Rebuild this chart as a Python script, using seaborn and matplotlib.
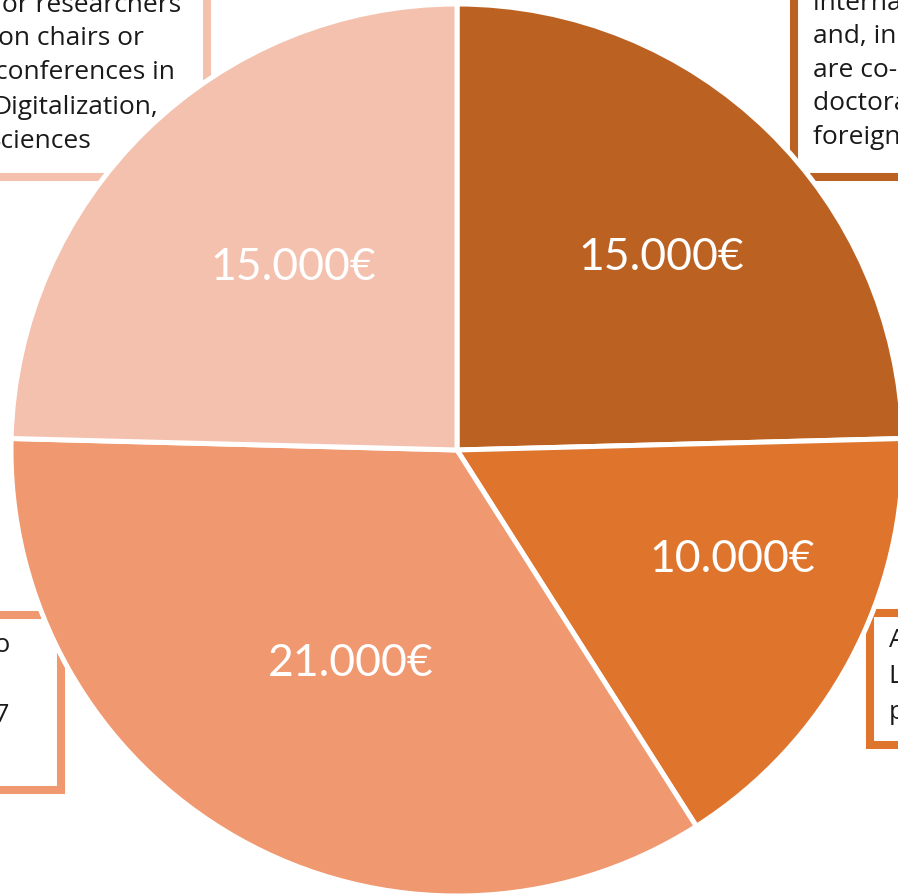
import numpy as np
import matplotlib
matplotlib.use('Agg')
import matplotlib.pyplot as plt
from matplotlib.patches import Rectangle
import seaborn as sns

# Budget split (clockwise from the top)
amounts = [15000, 10000, 21000, 15000]
amount_labels = ["15.000€", "10.000€", "21.000€", "15.000€"]
slice_colors = ["#BB6223", "#DF742D", "#F09870", "#F4C1AF"]
label_radius = [0.63, 0.665, 0.535, 0.55]   # fraction of radius for value labels
label_turn = [-2.4, 6.3, 3.0, -2.3]          # degrees off the slice middle

# Partially visible description boxes (cropped by the image edge)
box_top_left = ["for researchers", "on chairs or", "conferences in", "Digitalization,", "Sciences"]
box_top_right = ["international", "and, in particular,", "are co-authored by", "doctoral students", "foreign researchers"]
box_bottom_left = ["go to", "", "2017", ""]
box_bottom_right = ["Awards for", "LabEx members", "publications"]

W, H = 898, 896

sns.set_theme(style="white")
plt.rcParams['font.family'] = ['Open Sans', 'DejaVu Sans']

fig = plt.figure(figsize=(W / 100, H / 100), dpi=100)
ax = fig.add_axes([0, 0, 1, 1])

def py(y):
    # pixel row -> data y (y axis points up)
    return H - y

cx, cy, r = 457, py(450), 446

wedges, _ = ax.pie(amounts, colors=slice_colors, startangle=90, counterclock=False,
                   center=(cx, cy), radius=r,
                   wedgeprops=dict(edgecolor="white", linewidth=3.6))
for w in wedges:
    w.set_zorder(3)

for w, lab, f, d in zip(wedges, amount_labels, label_radius, label_turn):
    ang = np.deg2rad((w.theta1 + w.theta2) / 2 + d)
    ax.text(cx + f * r * np.cos(ang), cy + f * r * np.sin(ang), lab,
            color="white", fontsize=32, fontweight="normal", family=['Lato', 'DejaVu Sans'],
            ha="center", va="center", zorder=5)

box_lw = 5.8
txt_kw = dict(fontsize=19, color="#1a1a1a", va="center", zorder=2)

# top-left box
ax.add_patch(Rectangle((-30, py(177)), 236.5, 240, facecolor="white",
                       edgecolor=slice_colors[3], linewidth=box_lw, zorder=1))
tl_x = [-7, -2, -5, -8, -13]
tl_y = [5, 38, 72, 107, 141]
for s, x, y in zip(box_top_left, tl_x, tl_y):
    ax.text(x, py(y), s, ha="left", **txt_kw)

# top-right box
ax.add_patch(Rectangle((794, py(177)), 300, 240, facecolor="white",
                       edgecolor=slice_colors[0], linewidth=box_lw, zorder=1))
tr_y = [3, 36, 70, 103, 137]
for s, y in zip(box_top_right, tr_y):
    ax.text(813, py(y), s, ha="left", **txt_kw)

# bottom-left box
ax.add_patch(Rectangle((-40, py(790)), 101, 175, facecolor="white",
                       edgecolor=slice_colors[2], linewidth=box_lw, zorder=1))
bl_y = [645, 680, 715, 750]
for s, y in zip(box_bottom_left, bl_y):
    ax.text(10, py(y), s, ha="right", **txt_kw)

# bottom-right box
ax.add_patch(Rectangle((870, py(745)), 200, 132, facecolor="white",
                       edgecolor=slice_colors[1], linewidth=box_lw, zorder=1))
br_y = [640, 676, 712]
for s, y in zip(box_bottom_right, br_y):
    ax.text(889, py(y), s, ha="left", **txt_kw)

ax.set_xlim(0, W)
ax.set_ylim(0, H)
ax.set_aspect('auto')
ax.axis('off')

fig.savefig("out.png", dpi=100, facecolor="white")
